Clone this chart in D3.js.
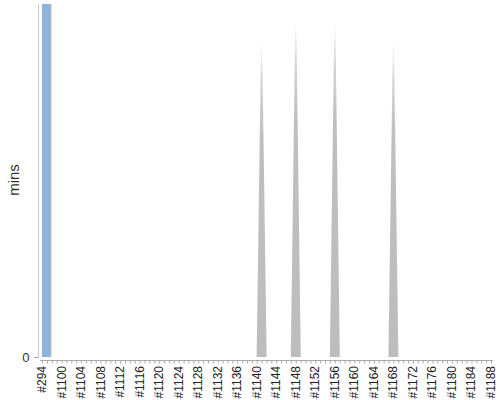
<!DOCTYPE html>
<html>
<head>
<meta charset="utf-8">
<script src="https://cdn.jsdelivr.net/npm/d3@7/dist/d3.min.js"></script>
<style>
  body { margin: 0; background: #fff; }
  text { font-family: "Liberation Sans", Arial, sans-serif; }
</style>
</head>
<body>
<script>
// categorieen op de x as: #294 en daarna #1097 t/m #1188
var categories = ["#294"];
var ids = [];
for (var n = 1097; n <= 1188; n++) ids.push(n);
ids.forEach(function(n) { categories.push("#" + n); });

// blauwe balk (minuten)
var barSeries = [{cat: "#294", value: 180}];

// grijze pieken (minuten)
var spikeSeries = [
  {cat: "#1141", value: 161},
  {cat: "#1148", value: 171},
  {cat: "#1156", value: 171},
  {cat: "#1168", value: 161}
];

// alleen elke vierde categorie krijgt een label
var tickLabels = categories.filter(function(d, i) { return i % 4 === 0; });

var width = 500, height = 400;
var baseY = 357;

var svg = d3.select("body").append("svg")
    .attr("width", width)
    .attr("height", height);

var x = d3.scalePoint().domain(categories).range([42, 491]);
var y = d3.scaleLinear().domain([0, 180]).range([baseY, 4]);

// verloop voor de pieken
var defs = svg.append("defs");
var grad = defs.append("linearGradient")
    .attr("id", "spikeGrad")
    .attr("x1", 0).attr("y1", 0).attr("x2", 0).attr("y2", 1);
grad.append("stop").attr("offset", "0%").attr("stop-color", "#ffffff");
grad.append("stop").attr("offset", "12%").attr("stop-color", "#d6d6d6");
grad.append("stop").attr("offset", "30%").attr("stop-color", "#bfbfbf");
grad.append("stop").attr("offset", "100%").attr("stop-color", "#bdbdbd");

// y as lijn
svg.append("line")
    .attr("x1", 38.5).attr("x2", 38.5)
    .attr("y1", y(180)).attr("y2", baseY)
    .attr("stroke", "#c8c8c8");

// y as: alleen 0
var yAxis = svg.append("g")
    .attr("transform", "translate(38.5,0)")
    .call(d3.axisLeft(y).tickValues([0]).tickSize(4).tickPadding(5));
yAxis.select(".domain").remove();
yAxis.selectAll(".tick line").attr("stroke", "#999");
yAxis.selectAll(".tick text")
    .attr("fill", "#333")
    .style("font-size", "13px")
    .style("font-family", "Liberation Sans, Arial, sans-serif");

// y as titel
svg.append("text")
    .attr("transform", "translate(19," + 180 + ") rotate(-90)")
    .attr("text-anchor", "middle")
    .attr("fill", "#333")
    .style("font-size", "15px")
    .text("mins");

// blauwe balk
var bw = 8;
svg.selectAll(".bar")
    .data(barSeries)
  .enter().append("rect")
    .attr("class", "bar")
    .attr("x", function(d) { return x(d.cat); })
    .attr("y", function(d) { return y(d.value); })
    .attr("width", bw)
    .attr("height", function(d) { return baseY - y(d.value); })
    .attr("fill", "#8db3e2");

// schaduwrand van de balk
svg.selectAll(".barEdge")
    .data(barSeries)
  .enter().append("rect")
    .attr("class", "barEdge")
    .attr("x", function(d) { return x(d.cat) + bw; })
    .attr("y", function(d) { return y(d.value); })
    .attr("width", 1.5)
    .attr("height", function(d) { return baseY - y(d.value); })
    .attr("fill", "#b9b9b9");

// pieken als smalle driehoeken
var half = 5;
svg.selectAll(".spike")
    .data(spikeSeries)
  .enter().append("path")
    .attr("class", "spike")
    .attr("d", function(d) {
      var cx = x(d.cat), top = y(d.value);
      return "M" + (cx - half) + "," + baseY +
             "L" + (cx - 0.5) + "," + top +
             "L" + (cx + 0.5) + "," + top +
             "L" + (cx + half) + "," + baseY + "Z";
    })
    .attr("fill", "url(#spikeGrad)");

// x as
var xAxis = svg.append("g")
    .attr("transform", "translate(0,360.5)")
    .call(d3.axisBottom(x).tickSize(3).tickFormat(""));
xAxis.select(".domain").attr("stroke", "#aaa").attr("d", "M40,0H493");
xAxis.selectAll(".tick line").attr("stroke", "#aaa");

// x labels, gedraaid
svg.selectAll(".xlabel")
    .data(tickLabels)
  .enter().append("text")
    .attr("class", "xlabel")
    .attr("transform", function(d) { return "translate(" + (x(d) + 4) + ",366) rotate(-90)"; })
    .attr("text-anchor", "end")
    .attr("fill", "#222")
    .style("font-size", "12px")
    .text(function(d) { return d; });
</script>
</body>
</html>
